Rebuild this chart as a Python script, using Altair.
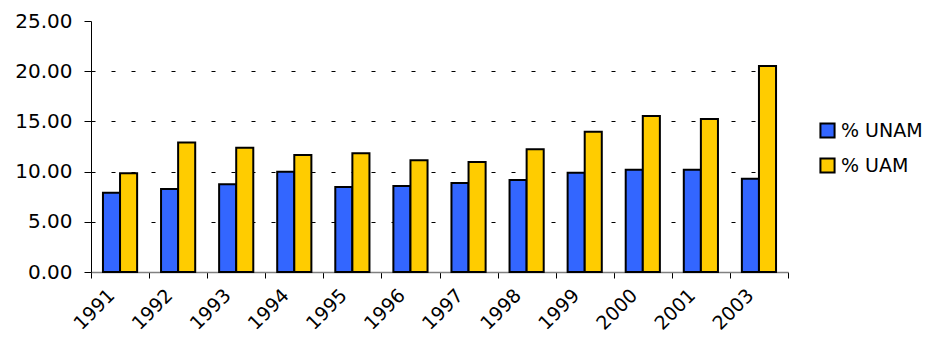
import altair as alt
import pandas as pd

years = ["1991", "1992", "1993", "1994", "1995", "1996", "1997", "1998", "1999", "2000", "2001", "2003"]
unam = [7.90, 8.27, 8.73, 9.99, 8.47, 8.57, 8.86, 9.16, 9.89, 10.19, 10.19, 9.29]
uam = [9.83, 12.90, 12.38, 11.65, 11.82, 11.12, 10.96, 12.22, 13.98, 15.54, 15.24, 20.52]
series = ["% UNAM", "% UAM"]
colors = ["#3366FF", "#FFCC00"]
y_ticks = [0, 5, 10, 15, 20, 25]

rows = []
for i, yr in enumerate(years):
    rows.append({"year": yr, "serie": series[0], "valor": unam[i]})
    rows.append({"year": yr, "serie": series[1], "valor": uam[i]})
df = pd.DataFrame(rows)

FONT = "DejaVu Sans"

chart = alt.Chart(df).mark_bar(stroke="black", strokeWidth=2).encode(
    x=alt.X("year:N", sort=years, title=None,
            scale=alt.Scale(paddingInner=0, paddingOuter=0),
            axis=alt.Axis(labelAngle=-45, labelFontSize=19, labelFont=FONT, labelColor="black",
                          tickBand="extent", tickSize=6, tickColor="black",
                          domainColor="#808080", domainWidth=1.5, labelPadding=14, labelOffset=-9,
                          labelAlign="right", labelBaseline="middle", grid=False)),
    xOffset=alt.XOffset("serie:N", sort=series, scale=alt.Scale(paddingInner=0, paddingOuter=0.7)),
    y=alt.Y("valor:Q", title=None,
            scale=alt.Scale(domain=[0, 25], nice=False),
            axis=alt.Axis(values=y_ticks, format=".2f", labelFontSize=20, labelFont=FONT,
                          labelColor="black", tickSize=7, tickColor="black", domainColor="black",
                          labelPadding=12,
                          grid=True, gridColor="black", gridDash=[4, 16], gridWidth=1,
                          gridOpacity={"expr": "datum.value == 25 || datum.value == 0 ? 0 : 1"})),
    color=alt.Color("serie:N", sort=series,
                    scale=alt.Scale(domain=series, range=colors),
                    legend=alt.Legend(title=None, orient="none", legendX=727, legendY=100,
                                      symbolType="square", symbolSize=200, symbolStrokeColor="black",
                                      symbolStrokeWidth=2, labelFontSize=19, labelFont=FONT,
                                      labelColor="black", rowPadding=12, labelOffset=4)),
).properties(
    width=697, height=251,
    background="white",
    autosize=alt.AutoSizeParams(type="none"),
    padding={"left": 83, "top": 13, "right": 136, "bottom": 65},
).configure_view(stroke=None, strokeWidth=0)

chart.save("out.html", embed_options={"renderer": "svg", "actions": False})
